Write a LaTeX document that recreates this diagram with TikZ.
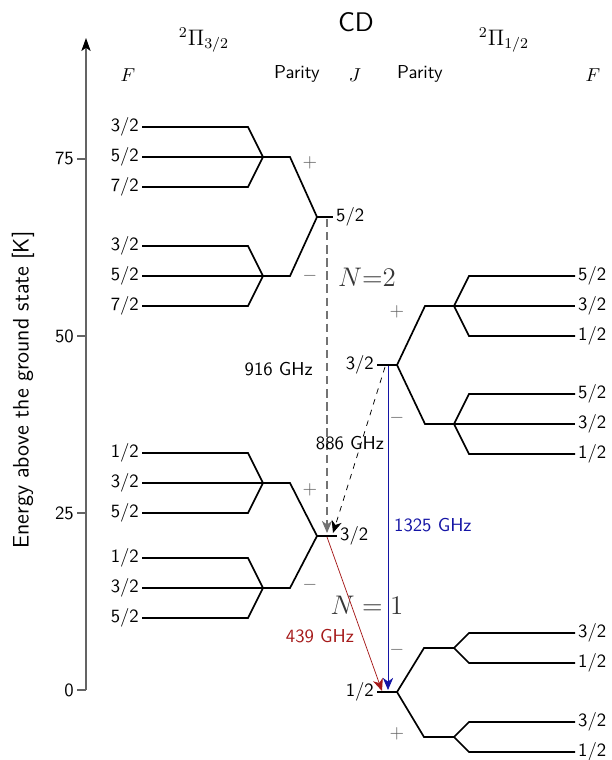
\documentclass[tikz,border=0pt]{standalone}
\usetikzlibrary{arrows.meta}
\definecolor{axisgray}{RGB}{100,100,100}
\definecolor{dashgray}{RGB}{115,115,115}
\definecolor{signgray}{RGB}{95,95,95}
\definecolor{ngray}{RGB}{55,55,55}
\definecolor{tblue}{RGB}{20,20,165}
\definecolor{tred}{RGB}{165,25,25}

% hyperfine triplet on the 2Pi(3/2) ladder, junction #1 at height #2
\newcommand\hfL[5]{%
  \coordinate (#1) at (263,#2);
  \node[flab,anchor=east] (#1t) at (142,#2-30) {#3};
  \node[flab,anchor=east] (#1m) at (142,#2) {#4};
  \node[flab,anchor=east] (#1b) at (142,#2+30) {#5};
  \draw[lvl] (#1t.east) -- ++(106,0) -- (#1);
  \draw[lvl] (#1m.east) -- (#1);
  \draw[lvl] (#1b.east) -- ++(106,0) -- (#1);
}
% hyperfine triplet on the 2Pi(1/2) ladder
\newcommand\hfRthree[5]{%
  \coordinate (#1) at (454,#2);
  \node[flab,anchor=west] (#1t) at (575,#2-30) {#3};
  \node[flab,anchor=west] (#1m) at (575,#2) {#4};
  \node[flab,anchor=west] (#1b) at (575,#2+30) {#5};
  \draw[lvl] (#1) -- ++(15,-30) -- (#1t.west);
  \draw[lvl] (#1) -- (#1m.west);
  \draw[lvl] (#1) -- ++(15,30) -- (#1b.west);
}
% hyperfine doublet on the 2Pi(1/2) ladder
\newcommand\hfRtwo[4]{%
  \coordinate (#1) at (454,#2);
  \node[flab,anchor=west] (#1t) at (575,#2-15) {#3};
  \node[flab,anchor=west] (#1b) at (575,#2+15) {#4};
  \draw[lvl] (#1) -- ++(15,-15) -- (#1t.west);
  \draw[lvl] (#1) -- ++(15,15) -- (#1b.west);
}

\begin{document}
\begin{tikzpicture}[x=0.535pt,y=-0.535pt,
  lvl/.style={line width=0.9pt,line join=miter},
  flab/.style={font=\sffamily,inner sep=1.5pt},
  psign/.style={text=signgray,inner sep=0pt},
  nlab/.style={text=ngray,font=\Large,inner sep=0pt},
  tip/.style={-{Stealth[length=6.5pt,width=5.5pt,inset=2pt]}},
]
\useasboundingbox (0,0) rectangle (611,760);

% energy axis
\coordinate (ax0) at (86,690);
\coordinate (ax1) at (86,38);
\draw[axisgray,semithick,-{Stealth[length=7pt,width=5pt,inset=1.8pt,color=black]}] (ax0) -- (ax1);
\foreach \v/\yy in {0/690,25/513,50/336,75/159}{
  \draw[axisgray,semithick] (77,\yy) -- (86,\yy);
  \node[flab,anchor=east] at (77,\yy) {\v};
}
\node[font=\sffamily\large,rotate=90] (axlab) at (23,390) {Energy above the ground state [K]};

% headings
\node[font=\sffamily\Large] (title) at (356,22) {CD};
\node[font=\large] (h32) at (204,40) {$^2\Pi_{3/2}$};
\node[font=\large] (h12) at (504,40) {$^2\Pi_{1/2}$};
\node (F1) at (128,75) {$F$};
\node[flab] (P1) at (297,74) {Parity};
\node (Jh) at (355,75) {$J$};
\node[flab] (P2) at (420,74) {Parity};
\node (F2) at (593,75) {$F$};

% 2Pi(3/2), J = 5/2
\coordinate (A) at (317,217);
\hfL{Ap}{157}{3/2}{5/2}{7/2}
\hfL{Am}{276}{3/2}{5/2}{7/2}
\draw[lvl] (Ap) -- ++(27,0) -- (A);
\draw[lvl] (Am) -- ++(27,0) -- (A);
\node[flab,anchor=west] (Alab) at (333,217) {5/2};
\draw[lvl] (A) -- (Alab.west);
\node[psign] (Aps) at (310,163) {$+$};
\node[psign] (Ams) at (310,276) {$-$};

% 2Pi(3/2), J = 3/2
\coordinate (B) at (317,536);
\hfL{Bp}{483}{1/2}{3/2}{5/2}
\hfL{Bm}{588}{1/2}{3/2}{5/2}
\draw[lvl] (Bp) -- ++(27,0) -- (B);
\draw[lvl] (Bm) -- ++(27,0) -- (B);
\node[flab,anchor=west] (Blab) at (337,536) {3/2};
\draw[lvl] (B) -- (Blab.west);
\node[psign] (Bps) at (310,490) {$+$};
\node[psign] (Bms) at (310,585) {$-$};

% 2Pi(1/2), J = 3/2
\coordinate (C) at (397,365);
\node[flab,anchor=east] (Clab) at (377,365) {3/2};
\draw[lvl] (Clab.east) -- (C);
\hfRthree{Cp}{306}{5/2}{3/2}{1/2}
\hfRthree{Cm}{424}{5/2}{3/2}{1/2}
\draw[lvl] (C) -- ++(28,-59) -- (Cp);
\draw[lvl] (C) -- ++(28,59) -- (Cm);
\node[psign] (Cps) at (397,312) {$+$};
\node[psign] (Cms) at (397,418) {$-$};

% 2Pi(1/2), J = 1/2
\coordinate (D) at (397,692);
\node[flab,anchor=east] (Dlab) at (377,692) {1/2};
\draw[lvl] (Dlab.east) -- (D);
\hfRtwo{Dm}{648}{3/2}{1/2}
\hfRtwo{Dp}{737}{3/2}{1/2}
\draw[lvl] (D) -- ++(27,-44) -- (Dm);
\draw[lvl] (D) -- ++(27,45) -- (Dp);
\node[psign] (Dms) at (397,650) {$-$};
\node[psign] (Dps) at (397,734) {$+$};

% rotational ladders
\node[nlab] (N2) at (367,277) {$N{=}2$};
\node[nlab] (N1) at (367,605) {$N = 1$};

% transitions
\coordinate (t1s) at (327,219);
\coordinate (t1e) at (327,533);
\draw[dashgray,semithick,dash pattern=on 4.5pt off 2.5pt,tip] (t1s) -- (t1e);
\node[flab,anchor=east] (f916) at (316,369) {916 GHz};

\coordinate (t2s) at (385,367);
\coordinate (t2e) at (333,533);
\draw[black,dashed,tip] (t2s) -- (t2e);
\node[flab] (f886) at (350,443) {886 GHz};

\coordinate (t3s) at (388,366);
\coordinate (t3e) at (388,690);
\draw[tblue,tip] (t3s) -- (t3e);
\node[flab,text=tblue,anchor=west] (f1325) at (391,525) {1325 GHz};

\coordinate (t4s) at (327,537);
\coordinate (t4e) at (382,691);
\draw[tred,tip] (t4s) -- (t4e);
\node[flab,text=tred] (f439) at (320,636) {439 GHz};
\end{tikzpicture}
\end{document}
